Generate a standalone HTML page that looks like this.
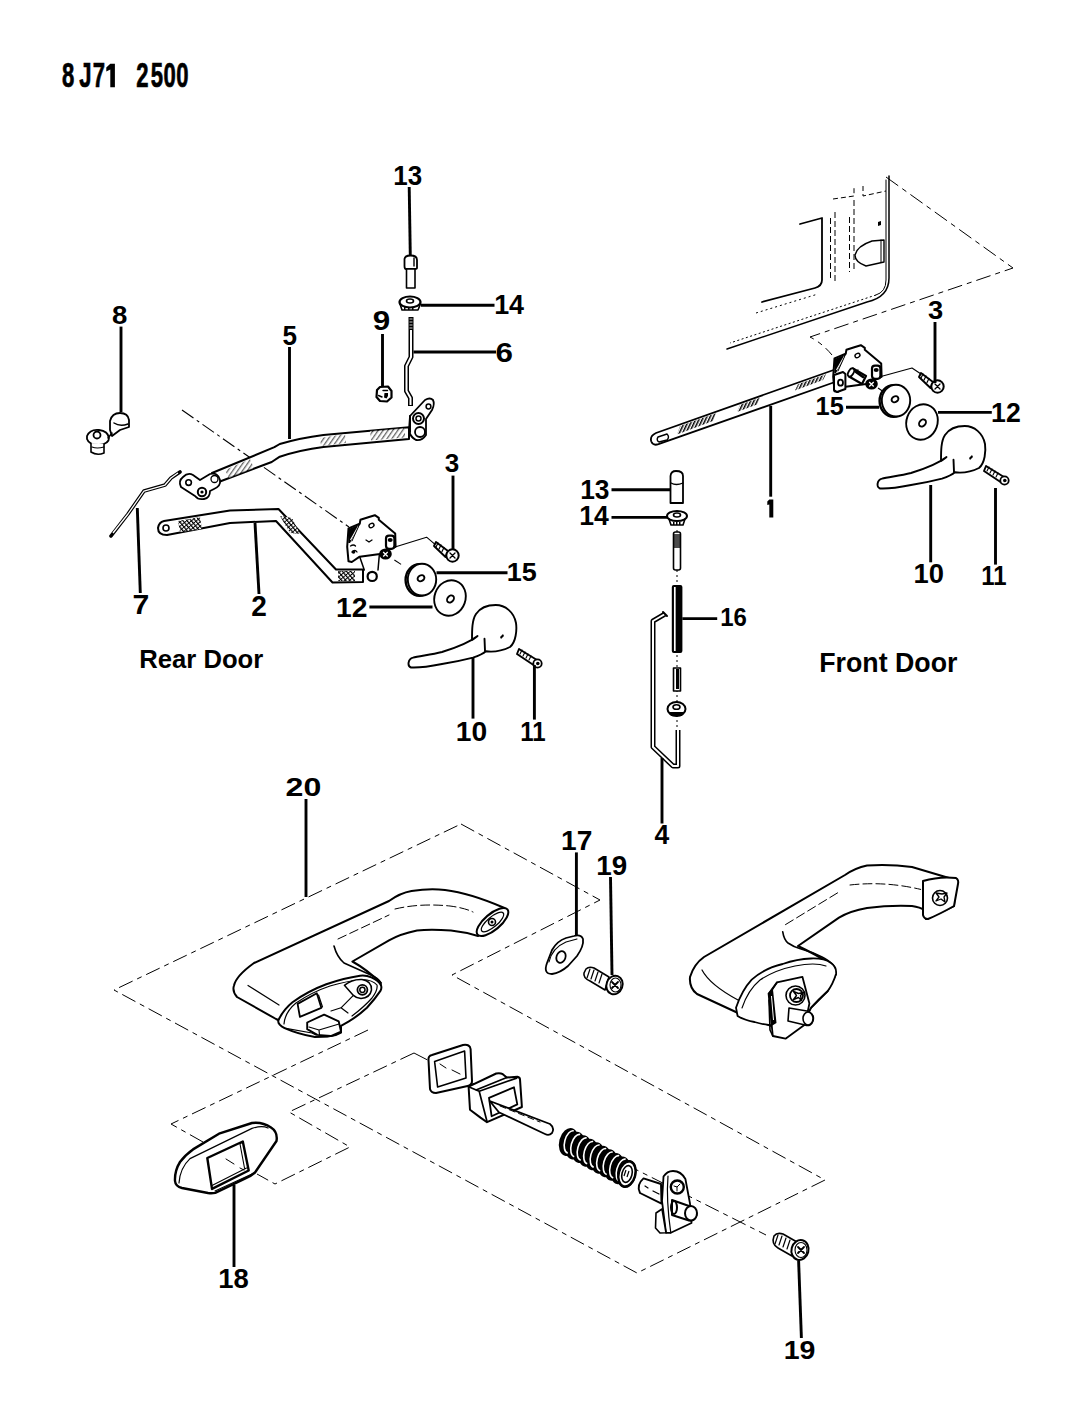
<!DOCTYPE html>
<html><head><meta charset="utf-8">
<style>
html,body{margin:0;padding:0;background:#fff;width:1065px;height:1416px;overflow:hidden;}
svg{display:block;}
text{font-family:"Liberation Sans",sans-serif;font-weight:bold;fill:#000;}
.t{font-size:25.5px;text-anchor:middle;}
.s{fill:none;stroke:#000;stroke-width:1.9;stroke-linejoin:round;stroke-linecap:round;}
.s2{fill:none;stroke:#000;stroke-width:2.2;stroke-linejoin:round;stroke-linecap:round;}
.w{fill:#fff;stroke:#000;stroke-width:1.9;stroke-linejoin:round;}
.k{fill:#000;stroke:none;}
.d{fill:none;stroke:#000;stroke-width:1;stroke-dasharray:13 5;}
.dt{fill:none;stroke:#000;stroke-width:1;stroke-dasharray:2 3;}
.l{fill:none;stroke:#000;stroke-width:2.9;}
</style></head><body>
<svg width="1065" height="1416" viewBox="0 0 1065 1416">
<defs>
<pattern id="hx" width="4" height="4" patternUnits="userSpaceOnUse" patternTransform="rotate(35)">
<rect width="4" height="4" fill="#fff"/><rect width="1.3" height="4" fill="#000"/>
</pattern>
<pattern id="hx2" width="3.2" height="3.2" patternUnits="userSpaceOnUse" patternTransform="rotate(-40)">
<rect width="3.2" height="3.2" fill="#fff"/><rect width="1.2" height="3.2" fill="#000"/><rect width="3.2" height="0.9" fill="#000"/>
</pattern>
<pattern id="hx3" width="3" height="3" patternUnits="userSpaceOnUse" patternTransform="rotate(25)">
<rect width="3" height="3" fill="#fff"/><rect width="1.5" height="3" fill="#000"/>
</pattern>
<!-- door handle (rear coords) -->
<g id="hdl">
<path class="w" d="M477.5 636 C470 642 455 648 442 652 C430 655 418 656 413 657.7 C408 659 407 666 411 667.5 C420 668 432 666 442 664 C455 662 468 659 473 657.7 C478 656 484 653 486 651.3 C492 652 500 652 510 647 C516 642 517 630 516 623 C514 612 505 605 495.8 605 C488 605 480 608 476 614 C472 620 472 630 472 640 C473 639 477 637 477.5 636 Z"/>
<path class="s" d="M484.5 638.7 L485 651"/>
<path class="k" d="M500 637 l3 -3 l1 2 l-3 3z"/>
</g>
<!-- washer 15 -->
<g id="w15">
<ellipse class="w" cx="419.6" cy="580" rx="14" ry="15.8" style="stroke-width:2.4"/>
<ellipse class="w" cx="422" cy="579.6" rx="14.2" ry="15.8"/>
<ellipse class="s" cx="421" cy="578.2" rx="3.6" ry="2.8" transform="rotate(-30 421 578.2)"/>
</g>
<!-- washer 12 -->
<g id="w12">
<ellipse class="w" cx="450" cy="598" rx="15.5" ry="18" transform="rotate(20 450 598)"/>
<ellipse class="s" cx="450.5" cy="599" rx="4" ry="3" transform="rotate(-50 450.5 599)"/>
</g>
<!-- screw 3 -->
<g id="sc3">
<path class="w" d="M436 542 L448 551 L445.5 557 L434 546 Z"/>
<path class="s" d="M438 543 l-2 4 M441 545 l-2 4 M444 547.5 l-2 4" style="stroke-width:1.2"/>
<circle class="w" cx="452.5" cy="555.5" r="6.2" style="stroke-width:2"/>
<path class="s" d="M450 553 l5 5 M455 553 l-5 5" style="stroke-width:1.3"/>
</g>
<!-- screw 11 -->
<g id="sc11">
<path class="w" d="M519 649 L537 660 L535 666 L517 654 Z"/>
<path class="s" d="M522 650 l-2 4 M525 652 l-2 4 M528 654 l-2 4 M531 656 l-2 4" style="stroke-width:1.1"/>
<ellipse class="w" cx="537.5" cy="663.5" rx="4.2" ry="4.2" style="stroke-width:1.8"/>
<circle class="k" cx="537.8" cy="663.5" r="1.8"/>
</g>
<!-- bracket plate (rear coords) -->
<g id="brk">
<path class="w" d="M348.5 528.4 L359.7 523.8 L360.4 519.8 L368.3 517.2 L374.8 515.2 L378.8 517.9 L378.8 519.8 L395.2 533.6 L395.6 546.8 L390.6 548.8 L380 554 L359.7 556.7 L351.8 562 L348.5 561.3 L347.2 546.8 Z" style="stroke-width:2"/>
<path d="M348.5 529 L359.7 524.5 L358 528 L350 543 L348.3 543 Z" fill="#000"/>
<path d="M350.5 540 L358.5 526" stroke="#fff" stroke-width="1.1"/>
<path class="s" d="M359.7 524 L352 541" style="stroke-width:1"/>
<ellipse class="s" cx="371.5" cy="525.5" rx="2.6" ry="2" transform="rotate(-30 371.5 525.5)" style="stroke-width:1.4"/>
<path class="s" d="M350.5 546 q3 -2 5 0 M352 552 q3 -3 5 0 M366 540 l3 2 l3 -2" style="stroke-width:1.3"/>
<circle class="k" cx="353.5" cy="552" r="1.8"/>
<rect class="w" x="386" y="535.6" width="8.4" height="13.2" rx="3" style="stroke-width:2.2"/>
<ellipse class="k" cx="390.2" cy="540" rx="2.5" ry="2"/>
<ellipse class="k" cx="385.5" cy="554" rx="6.3" ry="5.5"/>
<path d="M383.2 552 l4.5 4.5 M387.7 552 l-4.5 4.5" stroke="#fff" stroke-width="1.3"/>
</g>
</defs>
<!-- ========== FRONT DOOR PANEL ========== -->
<g>
<path class="d" d="M886 177 L1013 268 L810 337 Q822 343 832 355" style="stroke-dasharray:15 5 5 5"/>
<path class="s" d="M889 176 V278 Q889 297 867 302 L727 349" style="stroke-width:1.5"/>
<path class="s" d="M886 180 V280 Q886 292 876 295" style="stroke-width:1"/>
<path class="dt" d="M876 295 L730 343" style="stroke-dasharray:2 2.5"/>
<path class="s" d="M800 224 L822 218 V280 Q822 286 815 288 L762 302" style="stroke-width:1.8"/>
<path class="dt" d="M756 313 L818 294" style="stroke-dasharray:2 3"/>
<path class="d" d="M830.5 218 V281 M835 212 V282 M849.5 217 V272 M854 200 V270" style="stroke-width:1;stroke-dasharray:6 3"/>
<path class="d" d="M833 199 L854 196 V188 M863 186 V196 L886 191" style="stroke-width:1;stroke-dasharray:5 3"/>
<path class="s" d="M884 240 L884 262 L866 266 Q855 262 855 255 Q857 246 872 241 Z" style="stroke-width:1.4"/>
<path class="s" d="M881 240 V262" style="stroke-width:1"/>
<path class="k" d="M878 222 l3 -1 l0 4 l-3 1z"/>
</g>
<!-- ========== FRONT DOOR PARTS ========== -->
<g>
<!-- rod 1 -->
<path class="w" d="M835 369.5 L656 433 Q649.5 436 651.3 441.5 Q653 446 658.5 444.2 L835 382 Z" style="stroke-width:1.8"/>
<path class="s" d="M658 437 L667 434 Q670 437 667 440 L659 442 Q656 440 658 437 Z" style="stroke-width:1.4"/>
<path d="M680.0 426.1 L716.0 413.3 L713.0 421.0 L677.0 434.5 Z M740.0 404.8 L760.0 397.7 L757.0 404.6 L737.0 412.1 Z M798.0 384.2 L826.0 374.3 L823.0 380.0 L795.0 390.4 Z" fill="url(#hx3)" stroke="none"/>
<use href="#brk" transform="translate(486,-170)"/>
<path class="w" d="M834 375 L843 372 L845.4 374 L845.4 389 L837 392 L834 390 Z" style="stroke-width:2"/>
<ellipse class="s" cx="840.5" cy="382.7" rx="2.5" ry="3" style="stroke-width:1.8"/>

<path class="w" d="M853 368.5 L866 376 L862 384 L849 376.5 Z" style="stroke-width:2.2"/>
<ellipse class="w" cx="851" cy="372.5" rx="2.5" ry="4.5" transform="rotate(30 851 372.5)" style="stroke-width:1.8"/>
<path class="s" d="M856 372 L863 377" style="stroke-width:2.5"/>

<path class="s" d="M881 376.5 L912 368 L921 374" style="stroke-width:1.1"/>
<path class="d" d="M878 388 L887 394" style="stroke-width:1.1;stroke-dasharray:8 4"/>
<use href="#sc3" transform="translate(485,-169)"/>
<use href="#w15" transform="translate(474,-179)"/>
<use href="#w12" transform="translate(472,-176)"/>
<use href="#hdl" transform="translate(469,-179)"/>
<use href="#sc11" transform="translate(467,-183)"/>
</g>
<!-- ========== CENTER ROD ========== -->
<g>
<path class="dt" d="M677 530 V735" style="stroke-dasharray:2 3"/>
<path class="w" d="M670.5 476 Q671 471 676 471 Q683 471 683 476 V503 H670.5 Z" style="stroke-width:1.8"/>
<path class="s" d="M671 483 Q676 486 683 483" style="stroke-width:1.3"/>
<ellipse class="w" cx="677" cy="516" rx="10" ry="5" style="stroke-width:2"/>
<path class="s" d="M669 519 L671 525 H683 L685 519" style="stroke-width:1.6"/>
<path class="k" d="M673 522 h1.5 v3 h-1.5z M676 522 h1.5 v3 h-1.5z M679 522 h1.5 v3 h-1.5z"/>
<ellipse class="s" cx="677" cy="515" rx="3.5" ry="2" style="stroke-width:1.6"/>
<rect class="w" x="673.5" y="532" width="7" height="38" rx="2" style="stroke-width:1.6"/>
<path class="k" d="M674 534 h6 v14 h-6z" fill-opacity="0.7"/>
<rect x="671.8" y="585" width="10.6" height="68" rx="2" fill="#000"/>
<path d="M674.8 587 V651" stroke="#fff" stroke-width="1.7"/>
<rect class="w" x="673.5" y="668" width="7" height="23" style="stroke-width:1.6"/>
<path class="k" d="M676 669 h3 v20 h-3z"/>
<ellipse class="w" cx="676.5" cy="709" rx="9" ry="7" style="stroke-width:2"/>
<ellipse class="s" cx="676.5" cy="707" rx="3.5" ry="2.3" style="stroke-width:1.6"/>
<path class="k" d="M669 712 l15 0 l-2 4 h-11z"/>
<!-- rod 4 -->
<path d="M665 614 L653 621 V747 L673 766 L678 766 V730" fill="none" stroke="#000" stroke-width="5" stroke-linejoin="round"/>
<path d="M665 614 L653 621 V747 L673 766 L678 766 V730" fill="none" stroke="#fff" stroke-width="2" stroke-linejoin="round"/>
<path class="s" d="M663 612 L667 616" style="stroke-width:2"/>
</g>
<!-- ========== REAR DOOR ========== -->
<g>
<path class="d" d="M182 410 L349 527" style="stroke-dasharray:14 4 3 4;stroke-width:1.1"/>
<!-- bolt 13 -->
<path class="w" d="M404.5 266 V259 Q405 255.5 410.5 255.5 Q417 255.5 417 260 V268 Q417 269 414.5 269 H406 Q404.5 269 404.5 266 Z" style="stroke-width:1.8"/>
<path class="s" d="M414 258 V266" style="stroke-width:1.4"/>
<rect class="w" x="406.5" y="269" width="8.5" height="19" style="stroke-width:1.6"/>
<!-- washer 14 -->
<ellipse class="w" cx="410" cy="302" rx="10.5" ry="5.5" style="stroke-width:2.2"/>
<path class="s" d="M400 304 L402 310 H418 L420.5 304" style="stroke-width:1.6"/>
<path class="k" d="M404 307 h1.5 v3 h-1.5z M408 307 h1.5 v3 h-1.5z M412 307 h1.5 v3 h-1.5z"/>
<ellipse class="s" cx="410" cy="301" rx="3.5" ry="2" style="stroke-width:1.6"/>
<!-- rod 6 -->
<path d="M411 317 V357 L406.5 366 V391 L410.5 398 V406" fill="none" stroke="#000" stroke-width="5" stroke-linejoin="round"/>
<path d="M411 330 V357 L406.5 366 V391 L410.5 398 V405" fill="none" stroke="#fff" stroke-width="2" stroke-linejoin="round"/>
<path d="M409.5 319 h3 M409.5 322 h3 M409.5 325 h3 M409.5 328 h3" stroke="#fff" stroke-width="0.8"/>
<!-- nut 9 -->
<path class="w" d="M380 387 L388 386.5 L391.5 391 L391.5 397.5 L387 401.5 L380 401 L376.5 397 L377 390 Z" style="stroke-width:2.2"/>
<path class="k" d="M384.5 393 L388 393 L388 396 L386.5 398.5 L384 397.5 Z"/>
<path class="s" d="M383 390.5 L387.5 390.5 M378.5 395.5 L382 397" style="stroke-width:1.4"/>
<!-- rod 5 -->
<path class="w" d="M212 473 L274.4 447.2 L279.8 444 Q300 438 323.4 435 L409 427.3 L409 439 L323.4 447 Q300 450 279.8 456.7 L271.7 462 L216 483 Z" style="stroke-width:2"/>
<path d="M225 470 L250 459 L254 468 L229 478 Z M320 438 L345 434 L346 443 L321 446 Z M370 431 L405 428 L405 437.5 L371 440.5 Z" fill="url(#hx)" stroke="none" opacity="0.6"/>
<path class="w" d="M183 477 Q188 472 193 475 L200 480 L210 474 Q218 472 220 480 Q221 486 214 489 L210 491 Q210 498 204 499 Q198 500 195 496 L181 487 Q178 481 183 477 Z" style="stroke-width:1.8"/>
<circle class="s" cx="188.6" cy="482.6" r="2.8" style="stroke-width:1.6"/>
<circle class="w" cx="202" cy="492" r="4.2" style="stroke-width:2"/>
<circle class="k" cx="202" cy="492" r="1.6"/>
<circle class="s" cx="214.5" cy="479" r="3.5" style="stroke-width:1.3"/>
<path class="w" d="M410 416 L425 400 Q430 397 433 400 Q435 404 432 410 L426 419 L426 435 Q422 441 416 440 Q410 437 409 430 Z" style="stroke-width:1.8"/>
<circle class="s" cx="428.5" cy="406.5" r="2.4" style="stroke-width:1.5"/>
<circle class="w" cx="418.5" cy="418.5" r="5.5" style="stroke-width:2"/>
<circle class="s" cx="418.5" cy="418.5" r="2.5" style="stroke-width:1.5"/>
<circle class="w" cx="420" cy="432" r="5" style="stroke-width:1.8"/>
<path class="s" d="M410 416 V432" style="stroke-width:2"/>
<!-- part 8 -->
<path class="w" d="M110 421 Q112 413 120 413 Q128 413 129 420 V427 L120 430 L112 436 L110 430 Z" style="stroke-width:1.8"/>
<path class="s" d="M114 423 Q120 427 128 424" style="stroke-width:1.5"/>
<path class="w" d="M87 436 Q90 429 99 430 Q108 431 109 438 Q109 444 99 445 Q89 445 87 439 Z" style="stroke-width:1.8"/>
<circle class="s" cx="97" cy="435" r="3.5" style="stroke-width:1.8"/>
<path class="w" d="M91 443 V452 Q97 456 104 453 V444" style="stroke-width:1.6"/>
<path class="s" d="M92 447 Q97 449 104 447" style="stroke-width:1.2"/>
<path class="s" d="M108 438 L112 433" style="stroke-width:1.6"/>
<!-- wire 7 -->
<path d="M111 536 L128 514 L144 491 L165 485 L171 478 L180 472" fill="none" stroke="#000" stroke-width="3.6" stroke-linejoin="round" stroke-linecap="round"/>
<path d="M113 533 L128 514 L144 491 L165 485 L171 478 L178 473" fill="none" stroke="#fff" stroke-width="1.3" stroke-linejoin="round"/>
<!-- rod 2 -->
<path class="w" d="M164 521 L230 510.4 L278.5 509 L336 569.5 L363 569.5 L363 582 L332.5 582.5 L276 521 L230 523 L167 535 Q158 535 158 528 Q159 522 164 521 Z" style="stroke-width:2"/>
<circle class="s" cx="166" cy="528" r="3" style="stroke-width:1.6"/>
<path d="M178 521 L200 517 L202 529 L180 532 Z M280 516 L292 518 L300 534 L290 533 Z M338 571 L355 571 L355 581 L338 581 Z" fill="url(#hx2)"/>
<!-- bracket rear -->
<use href="#brk"/>
<path class="s" d="M359.7 556.7 L364.3 570 M379.4 554 L378 570" style="stroke-width:1.5"/>
<circle class="w" cx="372.2" cy="576.4" r="4.6" style="stroke-width:2.2"/>

<path class="s" d="M395 547 L426.6 537.2 L435 544.4" style="stroke-width:1.1"/>
<path class="d" d="M394.4 560 L403.6 566" style="stroke-width:1.1;stroke-dasharray:8 4"/>
<use href="#sc3"/>
<use href="#w15"/>
<use href="#w12"/>
<use href="#hdl"/>
<use href="#sc11"/>
</g>
<!-- ========== GRAB HANDLES ========== -->
<g>
<path class="d" d="M461 824 L600 900 L452 975 L825 1180 L637 1273 L114 990 Z" style="stroke-dasharray:15 5 5 5"/>
<path class="d" d="M368 1030 L171 1124 L203 1142" style="stroke-dasharray:15 5 5 5"/>
<path class="d" d="M414 1053 L289 1112 L350 1147 L275 1184 L257 1174" style="stroke-dasharray:15 5 5 5"/>
<path class="d" d="M414 1053 L480 1087 M625 1164 L766 1235" style="stroke-dasharray:15 5 5 5"/>
<!-- handle 20 -->
<path class="w" d="M234 985.5 Q236 976 254 963 L389 901 Q400 893 411.5 891 Q430 888 445 890 Q470 893 504.5 908 L478 936 Q465 932 451 930.5 Q430 929 417 930.5 Q400 934 389 940.4 L352.4 961.5 Q366 969 380.6 982.7 L381 988 L341 1023.5 L338 1033.4 Q330 1038 313 1036 L276 1019 L237 997 Q232 991 234 985.5 Z" style="stroke-width:2"/>
<path class="s" d="M334 946 Q337 957 344 963 Q355 968 372 975.6 Q378 978 381 983" style="stroke-width:1.6"/>
<path class="s" d="M338 939 L389 915 M395 909 Q420 903 450 906 Q465 908 473 912" style="stroke-width:1;stroke-dasharray:9 4"/>
<path class="s" d="M248 985.5 L279 1005" style="stroke-width:1.2"/>
<ellipse class="w" cx="492.5" cy="922" rx="19.5" ry="8" transform="rotate(-40 492.5 922)" style="stroke-width:2"/>
<ellipse class="s" cx="492.5" cy="922" rx="14" ry="5" transform="rotate(-40 492.5 922)" style="stroke-width:1.2"/>
<circle class="s" cx="492" cy="922" r="3.5" style="stroke-width:1.6"/>
<circle class="k" cx="492" cy="922" r="1.5"/>
<path class="w" d="M278.5 1020.2 Q283 1010 292.5 1002.2 Q308 991 326.3 984.2 Q344 978 360.1 975.7 Q366 975 371.4 977.4 Q379 981 381 985.3 Q382 988 380.4 990.9 Q375 999 366.9 1007.8 Q358 1016 348.9 1021.3 L341 1025.8 L341 1032.6 Q336 1035.5 330.8 1036 L315 1037.1 Q298 1034 284.6 1028.1 Q277 1024 278.5 1020.2 Z" style="stroke-width:2"/>
<path class="s" d="M284 1024 Q285 1012 296 1003 Q312 992 330 986 Q347 981 362 979.5 Q373 980 377 985 Q378 990 372 998 Q364 1007 352 1016" style="stroke-width:1.2"/>
<path class="s" d="M284.6 1028.1 L312 1033 L316 1035" style="stroke-width:1.2"/>
<path class="w" d="M297.6 1003.9 L316.8 993.2 L321.3 1007.8 L299.9 1016.8 Z" style="stroke-width:1.8"/>
<path class="s" d="M318.5 995 L322.5 1007" style="stroke-width:1.2"/>
<path class="w" d="M307.2 1022.5 L324.1 1014.6 L338.7 1021.3 L341 1031.5 L330.8 1036 L317.3 1034.9 L307.2 1029.2 Z" style="stroke-width:1.9"/>
<path class="s" d="M309 1027 L319 1030 L339 1024 M319 1030 L319.5 1035" style="stroke-width:1.2"/>
<path class="w" d="M344.4 985.3 Q352 979 362 979.5 Q372 981 371.5 990 Q370 998 361 998.5 Q356 998 353.4 995.4 Z" style="stroke-width:1.5"/>
<circle class="s" cx="362.4" cy="989.8" r="5" style="stroke-width:1.8"/>
<circle class="s" cx="362.4" cy="989.8" r="2.6" style="stroke-width:1.5"/>
<path class="s" d="M353.4 995.4 L341 1007.8 L331 1011 M341 1007.8 L348 1013" style="stroke-width:1.2"/>
<!-- gasket 17 -->
<path class="w" d="M547 963 Q543 974 552 974 Q560 973 568 966 L577 956 Q584 946 583 939 Q581 934 574 936 L566 938 Q557 941 552 950 Z" style="stroke-width:1.8"/>
<path class="s" d="M549 962 Q552 948 566 942 L577 939" style="stroke-width:1.1"/>
<ellipse class="s" cx="561" cy="957" rx="4.5" ry="6" transform="rotate(20 561 957)" style="stroke-width:1.8"/>
<!-- screw 19 top -->
<path class="w" d="M586 969 Q589 966 594 968 L609 977 L605 990 L590 981 Q583 978 584 973 Z" style="stroke-width:1.6"/>
<path class="s" d="M590 969 l-3 9 M594 970 l-3 9 M598 972 l-3 9 M602 974 l-3 9" style="stroke-width:1.2"/>
<ellipse class="w" cx="614.5" cy="985" rx="8" ry="9.5" transform="rotate(20 614.5 985)" style="stroke-width:2"/>
<ellipse class="s" cx="615.5" cy="985" rx="5.5" ry="7" style="stroke-width:1.1"/>
<path class="s" d="M612 982 l6 6 M618 982 l-6 6" style="stroke-width:1.8"/>
<!-- handle right -->
<path class="w" d="M690 977 Q694 964 704 957 L845 875 Q855 868 867 865.5 Q890 864 912 867 L949 878 L956 880 L954 906 L926 919 L925 910.5 Q920 907 912 906 Q890 905 867 908 Q850 911 839 917.6 L798 946 Q815 954 833.4 965.5 L836 974 L827.7 991 L811 1007.7 L805 1019 L782.7 1026 Q778 1028 774 1027 L738 1013 L697 994 Q689 988 690 977 Z" style="stroke-width:2"/>
<path class="s" d="M782.7 931.7 Q784 940 788 943 Q794 947 799.6 948.6 Q812 952 822 957 Q830 961 833.4 965.5" style="stroke-width:1.6"/>
<path class="s" d="M785.5 924.6 L839 892 M850 885 Q885 881 920.7 889.4" style="stroke-width:1;stroke-dasharray:9 4"/>
<path class="s" d="M702 970 Q710 985 738 1000" style="stroke-width:1.2"/>
<path class="w" d="M923 881 Q940 876 956 878 Q959 880 958 884 L954 906 Q940 914 928 919 Q924 919 923 915 Z" style="stroke-width:2"/>
<circle class="w" cx="940" cy="898" r="7.5" style="stroke-width:1.6"/>
<path class="s" d="M936 893 l3 4 l-3 4 l5 -2 l4 3 l-1 -5 l3 -4 l-5 1 z" style="stroke-width:1.3"/>
<path class="w" d="M736 1007.7 Q742 990 751.7 979.6 Q765 968 782.7 964 Q797 959 811 958.5 Q824 958 830.6 962.7 Q837 967 836 974 Q833 984 827.7 991 Q818 1000 811 1007.7 L805 1019 Q795 1025 782.7 1026 Q768 1026 754.5 1022 Q744 1020 737.6 1016 Z" style="stroke-width:1.8"/>
<path class="s" d="M742 1008 Q748 990 760 980 Q775 970 795 966 Q815 962 826 966" style="stroke-width:1.1"/>
<path class="w" d="M777 982.4 L802.4 976.8 L809.4 1003.5 L805 1024.6 L785.5 1038.7 L772.8 1036 L768.6 993.7 Z" style="stroke-width:1.8"/>
<path class="s" d="M768.6 993.7 L772 990 L777 982.4 M772.8 1036 L770 1030 L769 1000" style="stroke-width:1.6"/>
<path class="k" d="M768.5 993 L773 989.5 L776.5 1023 L771.5 1026 Z"/>
<path d="M771.5 996 L773.5 1020" stroke="#fff" stroke-width="1"/>
<circle class="w" cx="795.5" cy="995.5" r="9.5" style="stroke-width:1.6"/>
<circle class="w" cx="796.5" cy="995.5" r="6.5" style="stroke-width:1.8"/>
<path class="s" d="M793.5 991.5 l3 4 l-3 4 l5 -2 l3 3 l-1 -5 l3 -3 l-5 1 z" style="stroke-width:1.4"/>
<path class="w" d="M789 1008 L807 1011 Q815 1014 813 1021 Q811 1027 805 1025 L788 1021 Z" style="stroke-width:1.6"/>
<ellipse class="w" cx="808" cy="1018.5" rx="5" ry="6.5" style="stroke-width:1.6"/>
<!-- handle 18 -->
<path class="w" d="M175 1181 Q174.5 1171 180 1162 Q185 1155 193 1149.4 L219 1133.7 L252 1123 Q262 1121.5 271 1127.5 Q278 1132 276.5 1141 L255 1172.5 Q251 1176 245.4 1178.4 L215.2 1192.8 Q212 1193.5 208 1193 L182 1188 Q175.5 1186.5 175 1181 Z" style="stroke-width:2.4"/>
<path class="s" d="M179 1183 Q180 1168 190 1158.6 L252 1128.4 Q262 1125 268 1128" style="stroke-width:1.2"/>
<path class="w" d="M207.3 1158 L242.8 1141.5 L248.7 1170.5 L212 1188.9 Z" style="stroke-width:2.4"/>
<path class="s" d="M212 1185.5 L246.5 1168 M242.8 1141.5 L240 1144 L244.5 1168 M215 1191 L252 1174" style="stroke-width:1.1"/>
<path class="s" d="M226 1159 L234 1164 M240 1168 L244 1170" style="stroke-width:1"/>
<!-- square gasket -->
<path class="w" d="M428.5 1060 Q428 1056 432 1055 L463 1045 Q470 1044 470.6 1049 L472 1081 Q472 1085 467.6 1086 L436 1093 Q431 1093 430 1089 Z" style="stroke-width:2"/>
<path class="s" d="M434.6 1061.5 L464.6 1051 L466 1078 L437.6 1087 Z" style="stroke-width:1.6"/>
<path class="s" d="M440 1064 L446 1068 M452 1070 L460 1074" style="stroke-width:1"/>
<!-- block + shaft -->
<path class="w" d="M468.6 1086.7 L496.2 1073.5 Q500 1072.5 502.8 1074.2 L506.8 1077.5 L517.3 1076.8 Q520 1077.5 520 1079.4 L521.9 1107 L487 1122.2 L480.5 1117.6 L470 1109.7 Z" style="stroke-width:2"/>
<path class="s" d="M468.6 1086.7 L479.2 1091.3 L516.6 1078.1 M479.2 1091.3 L487 1121.5 M506.8 1077.5 L476 1090" style="stroke-width:1.7"/>
<path class="s" d="M489 1097.8 L514 1087.3 L517.3 1104.4 L491.6 1116.2 Z" style="stroke-width:1.8"/>
<path class="w" d="M489.7 1101 L550 1124 Q555 1128 552 1133 Q549 1136 545 1134 L498.9 1112.3 Z" style="stroke-width:1.8"/>
<path class="s" d="M500 1106 L540 1122" style="stroke-width:1;stroke-dasharray:6 4"/>
<!-- spring -->
<g>
<ellipse cx="568.5" cy="1142.0" rx="9.3" ry="14.2" transform="rotate(15 568.5 1142.0)" fill="#000"/>
<ellipse cx="575.0" cy="1145.6" rx="9.3" ry="14.2" transform="rotate(15 575.0 1145.6)" fill="#000"/>
<ellipse cx="581.5" cy="1149.1" rx="9.3" ry="14.2" transform="rotate(15 581.5 1149.1)" fill="#000"/>
<ellipse cx="588.0" cy="1152.7" rx="9.3" ry="14.2" transform="rotate(15 588.0 1152.7)" fill="#000"/>
<ellipse cx="594.5" cy="1156.2" rx="9.3" ry="14.2" transform="rotate(15 594.5 1156.2)" fill="#000"/>
<ellipse cx="601.0" cy="1159.8" rx="9.3" ry="14.2" transform="rotate(15 601.0 1159.8)" fill="#000"/>
<ellipse cx="607.5" cy="1163.3" rx="9.3" ry="14.2" transform="rotate(15 607.5 1163.3)" fill="#000"/>
<ellipse cx="614.0" cy="1166.9" rx="9.3" ry="14.2" transform="rotate(15 614.0 1166.9)" fill="#000"/>
<ellipse cx="620.5" cy="1170.4" rx="9.3" ry="14.2" transform="rotate(15 620.5 1170.4)" fill="#000"/>
<ellipse cx="627.0" cy="1174.0" rx="9.3" ry="14.2" transform="rotate(15 627.0 1174.0)" fill="#000"/>
<path d="M570.7 1130.5 A6 11.5 0 0 0 570.7 1153.5" transform="rotate(15 570.7 1142.0)" fill="none" stroke="#fff" stroke-width="1.6"/>
<path d="M577.2 1134.1 A6 11.5 0 0 0 577.2 1157.1" transform="rotate(15 577.2 1145.6)" fill="none" stroke="#fff" stroke-width="1.6"/>
<path d="M583.7 1137.6 A6 11.5 0 0 0 583.7 1160.6" transform="rotate(15 583.7 1149.1)" fill="none" stroke="#fff" stroke-width="1.6"/>
<path d="M590.2 1141.2 A6 11.5 0 0 0 590.2 1164.2" transform="rotate(15 590.2 1152.7)" fill="none" stroke="#fff" stroke-width="1.6"/>
<path d="M596.7 1144.7 A6 11.5 0 0 0 596.7 1167.7" transform="rotate(15 596.7 1156.2)" fill="none" stroke="#fff" stroke-width="1.6"/>
<path d="M603.2 1148.3 A6 11.5 0 0 0 603.2 1171.3" transform="rotate(15 603.2 1159.8)" fill="none" stroke="#fff" stroke-width="1.6"/>
<path d="M609.7 1151.8 A6 11.5 0 0 0 609.7 1174.8" transform="rotate(15 609.7 1163.3)" fill="none" stroke="#fff" stroke-width="1.6"/>
<path d="M616.2 1155.4 A6 11.5 0 0 0 616.2 1178.4" transform="rotate(15 616.2 1166.9)" fill="none" stroke="#fff" stroke-width="1.6"/>
<path d="M622.7 1158.9 A6 11.5 0 0 0 622.7 1181.9" transform="rotate(15 622.7 1170.4)" fill="none" stroke="#fff" stroke-width="1.6"/>
<ellipse cx="627.0" cy="1174.0" rx="8.3" ry="12.8" transform="rotate(15 627.0 1174.0)" fill="#fff" stroke="#000" stroke-width="2.4"/>
<ellipse cx="627.0" cy="1174.0" rx="5" ry="8.5" transform="rotate(15 627.0 1174.0)" fill="none" stroke="#000" stroke-width="1.6"/>
<path d="M626.0 1170.0 l-2 6 M629.0 1171.0 l-2 6" stroke="#000" stroke-width="1.2"/>
</g>
<!-- latch -->
<path class="w" d="M643.5 1178.4 L661 1184 L661.5 1203.6 L640 1193 Q636 1185 643.5 1178.4 Z" style="stroke-width:1.9"/>
<path class="s" d="M645 1186 L648 1188 M653 1191 L659 1194" style="stroke-width:1.2"/>
<path class="w" d="M663.5 1176.6 Q667 1171 673 1171 Q681 1171 685.4 1179 L690 1203.5 L691.5 1223 L670.8 1232.8 L666 1232.8 L662 1201 Z" style="stroke-width:1.8"/>
<path class="w" d="M656 1213 L662 1209 L666 1232.8 L660 1233 L655.5 1228 Z" style="stroke-width:1.6"/>
<path class="s" d="M668 1176 Q666 1200 670.8 1232.8" style="stroke-width:1.2"/>
<circle class="w" cx="677.3" cy="1187" r="6.5" style="stroke-width:2.4"/>
<path class="s" d="M674 1186 l3 1 l3 -3 M677 1187 l0 4" style="stroke-width:1"/>
<path class="w" d="M672 1200 L689 1206 Q697 1209 696.5 1215 Q695 1221 689 1220.5 L672 1215 Z" style="stroke-width:2"/>
<ellipse class="w" cx="691" cy="1213.3" rx="6" ry="7.3" style="stroke-width:2"/>
<ellipse class="s" cx="674" cy="1207.5" rx="3" ry="6.5" style="stroke-width:2"/>
<!-- screw 19 bottom -->
<path class="w" d="M774 1236 Q777 1232 783 1234 L797 1242 L792 1256 L778 1248 Q771 1244 774 1236 Z" style="stroke-width:1.6"/>
<path class="s" d="M778 1235 l-3 9 M782 1236 l-3 9 M786 1238 l-3 9 M790 1240 l-3 9" style="stroke-width:1.2"/>
<ellipse class="w" cx="800" cy="1250" rx="8.5" ry="10" transform="rotate(15 800 1250)" style="stroke-width:2"/>
<ellipse class="s" cx="801" cy="1250" rx="6" ry="7.5" style="stroke-width:1.1"/>
<path class="s" d="M798 1247 l6 6 M804 1247 l-6 6" style="stroke-width:1.8"/>
</g>
<!-- header -->
<g transform="translate(62,87) scale(0.64,1)" style="font-size:34.5px;stroke:#000;stroke-width:0.7px">
<text x="0">8</text><text x="27">J</text><text x="48">7</text>
<text x="116">2</text><text x="138.5">5</text><text x="158.5">0</text><text x="178.5">0</text>
</g>
<path d="M110.3 63.8 H114.9 V87.3 H110.3 V69.5 L106.3 71.5 V67.5 Z" fill="#000"/>
<!-- LABELS -->
<g class="labels">
<g style="font-size:27px">
<text transform="translate(393.32 184.64) scale(0.961 1.047)">13</text>
<text transform="translate(494.16 313.90) scale(0.996 1.032)">14</text>
<text transform="translate(372.64 330.44) scale(1.162 1.053)">9</text>
<text transform="translate(495.54 362.35) scale(1.162 1.005)">6</text>
<text transform="translate(112.03 323.96) scale(1.022 0.968)">8</text>
<text transform="translate(282.43 345.05) scale(0.966 0.997)">5</text>
<text transform="translate(444.68 472.47) scale(0.966 0.937)">3</text>
<text transform="translate(132.40 613.50) scale(1.120 1.011)">7</text>
<text transform="translate(251.16 615.80) scale(1.038 1.083)">2</text>
<text transform="translate(506.75 580.86) scale(1.000 0.944)">15</text>
<text transform="translate(336.06 616.60) scale(1.050 0.997)">12</text>
<text transform="translate(455.87 740.55) scale(1.046 1.005)">10</text>
<text transform="translate(520.24 740.80) scale(0.892 1.032)">11</text>
<text transform="translate(580.19 499.34) scale(0.976 1.037)">13</text>
<text transform="translate(579.18 525.30) scale(0.986 1.011)">14</text>
<text transform="translate(720.15 625.66) scale(0.888 0.947)">16</text>
<text transform="translate(654.41 843.70) scale(0.982 1.027)">4</text>
<path d="M769.3 499.6 H773.3 V517.4 H769.3 V504.5 L767.3 505 V501.5 Z" fill="#000"/>
<text transform="translate(928.04 318.66) scale(1.011 0.979)">3</text>
<text transform="translate(815.56 414.77) scale(0.938 0.939)">15</text>
<text transform="translate(991.07 422.20) scale(0.987 0.992)">12</text>
<text transform="translate(913.43 583.44) scale(1.013 1.037)">10</text>
<text transform="translate(981.25 584.90) scale(0.888 1.038)">11</text>
<text transform="translate(285.61 795.66) scale(1.189 0.953)">20</text>
<text transform="translate(560.97 850.30) scale(1.044 1.043)">17</text>
<text transform="translate(596.20 874.74) scale(1.028 1.032)">19</text>
<text transform="translate(218.22 1287.74) scale(1.018 1.032)">18</text>
<text transform="translate(783.75 1358.76) scale(1.057 0.968)">19</text>
<text transform="translate(139.34 667.76) scale(0.950 0.960)">Rear Door</text>
<text transform="translate(819.27 671.85) scale(0.991 1.008)">Front Door</text>
</g>
</g>
<!-- LEADERS -->
<g class="l">
<path d="M409.2 187L410.3 256"/>
<path d="M421 305.2H494.5"/>
<path d="M382.5 334V387"/>
<path d="M413.5 352H496"/>
<path d="M121 326.6V412"/>
<path d="M289.5 347V439"/>
<path d="M453 475.6V550"/>
<path d="M137.3 508L140.3 593"/>
<path d="M255 523L259 594"/>
<path d="M436.5 572.7H507.5"/>
<path d="M369.4 607H432.5"/>
<path d="M473 657.7V718.6"/>
<path d="M534.4 665V719.6"/>
<path d="M611.5 489.8H670.6"/>
<path d="M611.5 517.4H667.7"/>
<path d="M682.3 618.6H717.2"/>
<path d="M662 758V823.5"/>
<path d="M770.7 406V496.7"/>
<path d="M935 322V383"/>
<path d="M846 407.3H879.2"/>
<path d="M938 412.4H991.8"/>
<path d="M930.7 485V562.3"/>
<path d="M995.5 488V564.6"/>
<path d="M306 799V897"/>
<path d="M576.4 852.4V935.7"/>
<path d="M610.5 877L612 975"/>
<path d="M234 1185V1267"/>
<path d="M798.6 1260.6L801.4 1338"/>
</g>
</svg>
</body></html>
